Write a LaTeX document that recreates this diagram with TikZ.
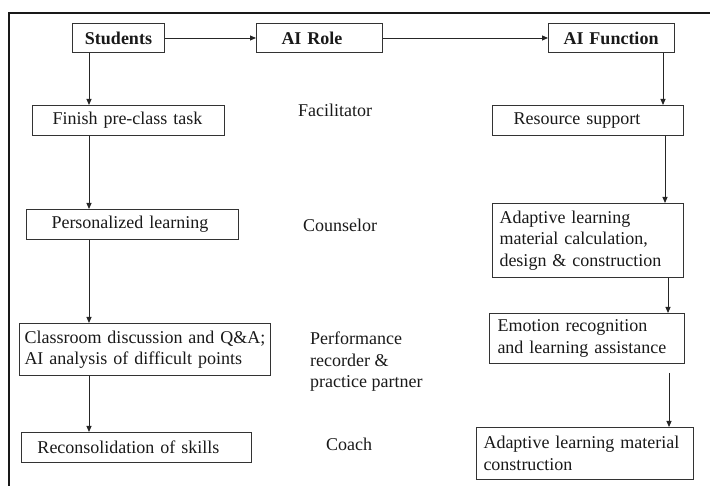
\documentclass[tikz,border=0pt]{standalone}
\usepackage{fontspec}
\setmainfont{Liberation Serif}
\usetikzlibrary{arrows.meta}
\begin{document}
\begin{tikzpicture}[x=1pt,y=-1pt,
  every node/.style={font=\fontsize{18}{21.5}\selectfont, text=black!90},
  box/.style={draw=black!80, line width=1pt, align=left, inner ysep=0pt, anchor=north west},
  lbl/.style={anchor=west, align=left, inner sep=0pt},
  arr/.style={draw=black!85, line width=0.9pt, -{Triangle[length=6pt,width=5pt]}}
]
\useasboundingbox (0,0) rectangle (710,486);
% frame
\draw[line width=2.6pt, black!90] (9,486) -- (9,13) -- (710,13);

% header boxes
\node[box, align=center, text width=72pt, inner xsep=10pt, minimum height=29pt] (stu) at (72,23) {\bfseries Students};
\node[box, text width=76pt, inner xsep=25pt, minimum height=29pt] (role) at (256,23) {\bfseries AI Role};
\node[box, text width=96pt, inner xsep=15pt, minimum height=29pt] (func) at (548,23) {\bfseries AI Function};

% left column
\node[box, text width=152pt, inner xsep=20pt, minimum height=30pt] (fin) at (32,105) {Finish pre-class task};
\node[box, text width=162pt, inner xsep=25pt, minimum height=30pt] (pers) at (26,209) {Personalized learning};
\node[box, text width=241pt, inner xsep=5pt, minimum height=52pt] (cls) at (19,323) {Classroom discussion and Q\&A;\\AI analysis of difficult points};
\node[box, text width=198pt, inner xsep=16pt, minimum height=30pt] (rec) at (21,432) {Reconsolidation of skills};

% right column
\node[box, text width=149pt, inner xsep=21pt, minimum height=30pt] (res) at (492,105) {Resource support};
\node[box, text width=177pt, inner xsep=7pt, minimum height=74pt] (ada) at (492,203) {Adaptive learning\\material calculation,\\design \& construction};
\node[box, text width=179pt, inner xsep=8pt, minimum height=50pt] (emo) at (489,313) {Emotion recognition\\and learning assistance};
\node[box, text width=203pt, inner xsep=7pt, minimum height=52pt] (ada2) at (476,427) {Adaptive learning material\\construction};

% role labels
\node[lbl] (fac) at (298,110) {Facilitator};
\node[lbl] (cou) at (303,225) {Counselor};
\node[lbl] (per) at (310,362) {Performance\\recorder \&\\practice partner};
\node[lbl] (coa) at (326,444) {Coach};

% column x coordinates
\coordinate (cL) at (89,0);
\coordinate (cR1) at (663,0);
\coordinate (cR2) at (665,0);
\coordinate (cR3) at (668,0);
\coordinate (cR4) at (669,0);

% connectors
\draw[arr] (stu.east) -- (role.west);
\draw[arr] (role.east) -- (func.west);
\draw[arr] (stu.south -| cL) -- (fin.north -| cL);
\draw[arr] (fin.south -| cL) -- (pers.north -| cL);
\draw[arr] (pers.south -| cL) -- (cls.north -| cL);
\draw[arr] (cls.south -| cL) -- (rec.north -| cL);
\draw[arr] (func.south -| cR1) -- (res.north -| cR1);
\draw[arr] (res.south -| cR2) -- (ada.north -| cR2);
\draw[arr] (ada.south -| cR3) -- (emo.north -| cR3);
\draw[arr, shorten <=9pt] (emo.south -| cR4) -- (ada2.north -| cR4);
\end{tikzpicture}
\end{document}
